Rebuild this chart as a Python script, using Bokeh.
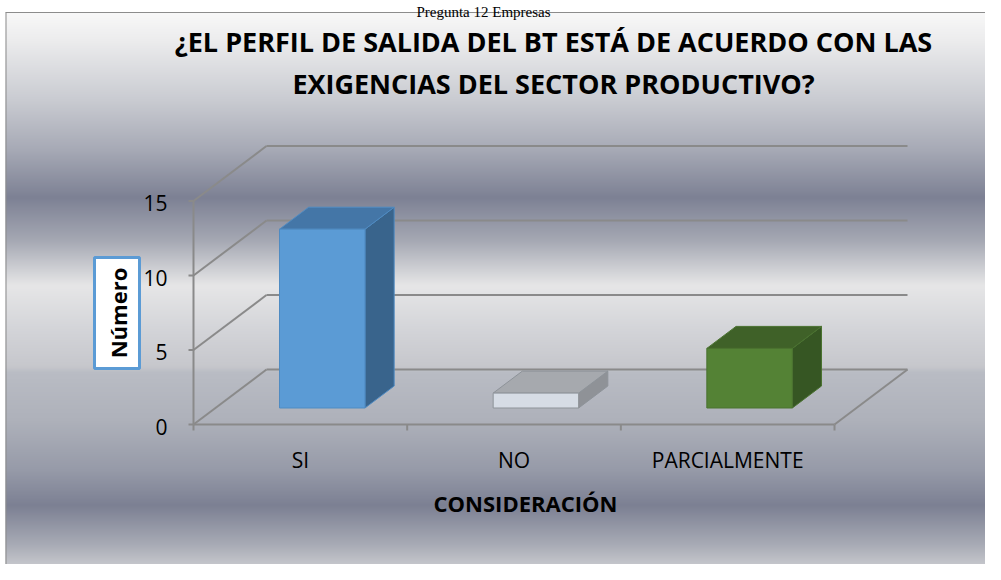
import numpy as np
from bokeh.plotting import figure
from bokeh.models import Range1d, Label, BoxAnnotation
from bokeh.core.properties import value
from bokeh.embed import file_html
from bokeh.resources import INLINE

# ---------------- data ----------------
categories = ["SI", "NO", "PARCIALMENTE"]
counts = [12, 1, 4]
y_ticks = [0, 5, 10, 15]
y_tick_labels = ["0", "5", "10", "15"]
title_lines = ["¿EL PERFIL DE SALIDA DEL BT ESTÁ DE ACUERDO CON LAS",
               "EXIGENCIAS DEL SECTOR PRODUCTIVO?"]
x_title = "CONSIDERACIÓN"
y_title = "Número"
caption = "Pregunta 12 Empresas"

# ---------------- styles ----------------
front_colors = ["#5b9bd5", "#d6dce5", "#548235"]
top_colors = ["#4476a7", "#a6a9ae", "#3f6128"]
side_colors = ["#39648c", "#8f9297", "#365623"]
edge_colors = ["#4f8bc2", "#8e9399", "#4a7230"]
grid_color = "#8a8a8a"

# ---------------- geometry (pixel <-> data) ----------------
W, H = 985, 564
PX_PER_CAT = 213.67
PX_PER_UNIT = 14.9
X0_IMG, Y0_IMG = 193.0, 424.0


def fx(px):
    return (px - X0_IMG) / PX_PER_CAT


def fy(py):
    return (Y0_IMG - py) / PX_PER_UNIT


DX = 73.0 / PX_PER_CAT      # full floor depth, in category units
DY = 55.0 / PX_PER_UNIT     # full floor depth, in value units
Z0, Z1 = 0.3, 0.7           # bar depth span
BAR_W = 0.4
NCAT = len(categories)
YMAX = max(y_ticks)

p = figure(width=W, height=H, output_backend="svg", toolbar_location=None,
           x_range=Range1d(fx(0), fx(W)),
           y_range=Range1d(fy(H), fy(0)),
           x_axis_type=None, y_axis_type=None, title=None, min_border=0)
p.outline_line_color = None
p.background_fill_color = "white"
p.border_fill_color = "white"

# ---------------- background gradient ----------------
stop_y = [12, 40, 100, 150, 197, 240, 285, 330, 366, 372, 420, 470, 505, 545, 580]
stop_c = ["#f8f8f8", "#ececed", "#c9cbd1", "#a6a9b5", "#7d8194", "#a5a8b3", "#e6e6e7",
          "#d3d4d8", "#c6c7cc", "#b9bcc4", "#aeb1ba", "#969aa8", "#7c8093", "#a9acb6",
          "#dcdcde"]
rgb = np.array([[int(c[i:i + 2], 16) for i in (1, 3, 5)] for c in stop_c], dtype=float)
n_rows = 580 - 12
rows_y = 580 - np.arange(n_rows) - 0.5
arr = np.zeros((n_rows, 1, 4), dtype=np.uint8)
for k in range(3):
    arr[:, 0, k] = np.interp(rows_y, stop_y, rgb[:, k]).round().astype(np.uint8)
arr[:, 0, 3] = 255
img = arr.view(np.uint32).reshape(n_rows, 1)
p.image_rgba(image=[img], x=fx(5), y=fy(580), dw=fx(1001) - fx(5), dh=fy(12) - fy(580))

# chart border
p.segment(x0=[fx(5), fx(5.5)], y0=[fy(12), fy(12)], x1=[fx(1001), fx(5.5)], y1=[fy(12), fy(580)],
          line_color="#8c8c8c", line_width=1)

# ---------------- 3D walls / gridlines ----------------
gx, gy = [], []
for v in y_ticks:
    gx.append([DX, NCAT + DX]); gy.append([v + DY, v + DY])   # back wall
    gx.append([0, DX]); gy.append([v, v + DY])                 # side wall
gx.append([0, NCAT]); gy.append([0, 0])                        # floor front
gx.append([NCAT, NCAT + DX]); gy.append([0, DY])               # floor right
gx.append([0, 0]); gy.append([0, YMAX])                        # value axis
for v in y_ticks:
    gx.append([-5 / PX_PER_CAT, 0]); gy.append([v, v])
for i in range(NCAT + 1):
    gx.append([i, i]); gy.append([0, -6 / PX_PER_UNIT])
p.multi_line(xs=gx, ys=gy, line_color=grid_color, line_width=2)

# ---------------- 3D bars ----------------
ddx = (Z1 - Z0) * DX
ddy = (Z1 - Z0) * DY
fxs, fys, txs, tys, sxs, sys_ = [], [], [], [], [], []
for i, v in enumerate(counts):
    xl = i + 0.5 - BAR_W / 2 + Z0 * DX
    xr = xl + BAR_W
    yb = Z0 * DY
    yt = v + Z0 * DY
    fxs.append([xl, xr, xr, xl]); fys.append([yb, yb, yt, yt])
    txs.append([xl, xr, xr + ddx, xl + ddx]); tys.append([yt, yt, yt + ddy, yt + ddy])
    sxs.append([xr, xr + ddx, xr + ddx, xr]); sys_.append([yb, yb + ddy, yt + ddy, yt])

p.patches(xs=sxs, ys=sys_, fill_color=side_colors, line_color=edge_colors, line_width=1)
p.patches(xs=txs, ys=tys, fill_color=top_colors, line_color=edge_colors, line_width=1)
p.patches(xs=fxs, ys=fys, fill_color=front_colors, line_color=edge_colors, line_width=1)

# ---------------- tick labels ----------------
p.text(x=[fx(167)] * len(y_ticks), y=y_ticks, text=y_tick_labels,
       text_align="right", text_baseline="middle", y_offset=2,
       text_font=value("Open Sans"), text_font_size="21px", text_color="#000000")
p.text(x=[i + 0.5 for i in range(NCAT)], y=[fy(459)] * NCAT, text=categories,
       text_align="center", text_baseline="middle",
       text_font=value("Open Sans"), text_font_size="21px", text_color="#000000")

# ---------------- titles ----------------
for j, line in enumerate(title_lines):
    p.add_layout(Label(x=fx(553), y=fy(41 + 42 * j), text=line, text_align="center",
                       text_baseline="middle", text_font="Open Sans", text_font_style="bold",
                       text_font_size="27px", text_color="#000000"))

p.add_layout(Label(x=fx(525), y=fy(502), text=x_title, text_align="center",
                   text_baseline="middle", text_font="Open Sans", text_font_style="bold",
                   text_font_size="22px", text_color="#000000"))

p.add_layout(BoxAnnotation(left=fx(94), right=fx(139), top=fy(257), bottom=fy(368),
                           fill_color="white", fill_alpha=1.0,
                           line_color="#5b9bd5", line_width=3, line_alpha=1.0))
p.add_layout(Label(x=fx(117), y=fy(312.5), text=y_title, angle=np.pi / 2,
                   text_align="center", text_baseline="middle", text_font="Open Sans",
                   text_font_style="bold", text_font_size="22px", text_color="#000000"))

p.add_layout(Label(x=fx(483), y=fy(11), text=caption, text_align="center",
                   text_baseline="alphabetic", text_font="Liberation Serif",
                   text_font_size="15px", text_color="#000000"))

open("out.html", "w").write(file_html(p, INLINE))
